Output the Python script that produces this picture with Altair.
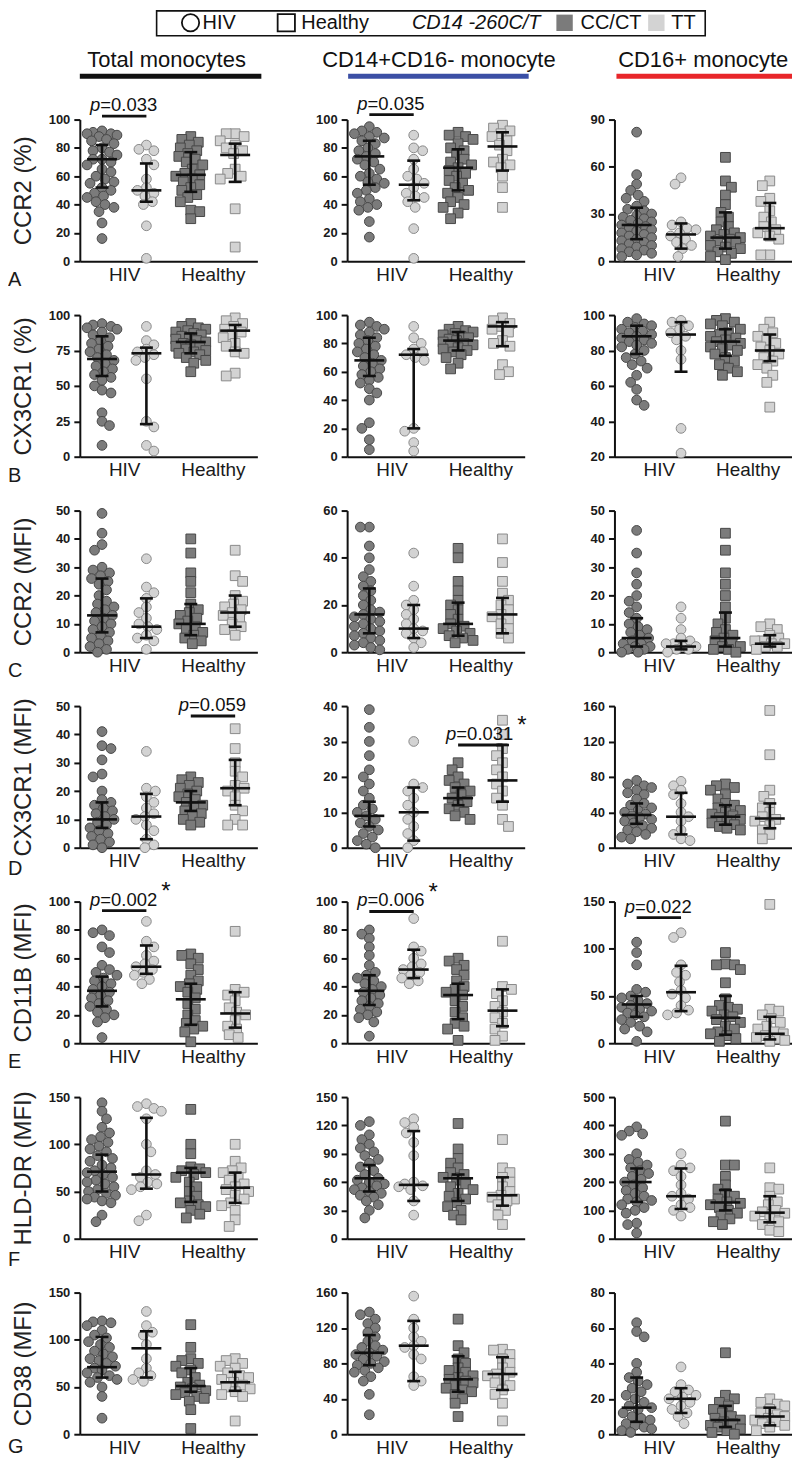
import altair as alt
import pandas as pd

FONT = "Liberation Sans"
W, H = 178, 142
COL_SP, ROW_SP = 90, 54
UNIT = 4.0 / W  # x-units per pixel

GROUPS = ["HIV CC/CT", "HIV TT", "Healthy CC/CT", "Healthy TT"]
CENTERS = [0.5, 1.5, 2.5, 3.5]
SHAPES = ["circle", "circle", "square", "square"]
FILLS = ["#7b7b7b", "#d3d3d3", "#7b7b7b", "#d3d3d3"]
STROKES = ["#474747", "#8a8a8a", "#474747", "#8a8a8a"]
ROW_LETTERS = ["A", "B", "C", "D", "E", "F", "G"]
ROW_LETTER_DY = [25, 25, 25, 27, 25, 27, 19]
ROW_TITLES = ["CCR2 (%)", "CX3CR1 (%)", "CCR2 (MFI)", "CX3CR1 (MFI)",
              "CD11B (MFI)", "HLD-DR (MFI)", "CD38 (MFI)"]
COL_TITLES = ["Total monocytes", "CD14+CD16- monocyte", "CD16+ monocyte"]
COL_LINE_COLORS = ["#111111", "#3b4fa5", "#e8262a"]
LEGEND_TEXT = ["HIV", "Healthy", "CD14 -260C/T", "CC/CT", "TT"]

# y axes (min, max, step) per row, per column
AXES = [
    [(0, 100, 20), (0, 100, 20), (0, 90, 30)],
    [(0, 100, 25), (0, 100, 20), (20, 100, 20)],
    [(0, 50, 10), (0, 60, 20), (0, 50, 10)],
    [(0, 50, 10), (0, 40, 10), (0, 160, 40)],
    [(0, 100, 20), (0, 100, 20), (0, 150, 50)],
    [(0, 150, 50), (0, 150, 30), (0, 500, 100)],
    [(0, 150, 50), (0, 160, 40), (0, 80, 20)],
]

# ---- values: [HIV CC/CT, HIV TT, Healthy CC/CT, Healthy TT] ----
A1 = [[92, 91, 90, 90, 89, 88, 86, 85, 83, 80, 78, 77, 75, 72, 72, 70, 68, 65, 63, 60, 58, 56, 55, 52, 50, 48, 46, 45, 42, 40, 38, 35, 27, 16],
      [82, 79, 78, 72, 68, 58, 52, 50, 48, 46, 42, 40, 25, 2],
      [88, 86, 84, 82, 80, 78, 76, 74, 72, 70, 68, 65, 62, 61, 60, 58, 56, 54, 52, 50, 47, 45, 42, 36, 35, 30],
      [90, 90, 88, 85, 82, 80, 78, 76, 65, 62, 60, 58, 37, 10]]
A2 = [[95, 92, 91, 90, 88, 87, 85, 83, 80, 78, 76, 74, 72, 70, 68, 65, 62, 60, 58, 56, 55, 52, 50, 48, 44, 42, 40, 38, 36, 28, 17],
      [89, 80, 78, 72, 65, 60, 58, 55, 52, 48, 46, 45, 42, 38, 23, 2],
      [91, 89, 88, 86, 83, 80, 78, 75, 72, 70, 68, 66, 64, 62, 60, 57, 55, 52, 50, 48, 45, 42, 40, 38, 34, 30],
      [96, 94, 92, 90, 88, 85, 82, 78, 72, 70, 68, 66, 60, 52, 38]]
A3 = [[82, 55, 49, 45, 42, 40, 38, 35, 33, 32, 30, 29, 28, 27, 26, 25, 24, 23, 22, 21, 20, 19, 18, 17, 16, 15, 14, 13, 12, 11, 10, 9, 8, 7, 6, 5, 4, 3],
      [53, 49, 25, 23, 21, 20, 18, 16, 14, 12, 10, 8, 3],
      [66, 51, 47, 42, 36, 31, 28, 25, 22, 20, 18, 17, 16, 15, 14, 13, 12, 10, 9, 8, 6, 5, 3, 1],
      [51, 48, 40, 38, 32, 28, 25, 22, 20, 18, 16, 14, 4, 4]]
B1 = [[94, 93, 92, 91, 90, 88, 86, 84, 82, 80, 78, 76, 74, 72, 70, 68, 66, 64, 62, 60, 58, 56, 54, 50, 47, 45, 31, 25, 22, 8],
      [92, 82, 79, 76, 74, 72, 70, 68, 55, 25, 21, 8, 4],
      [94, 92, 91, 90, 89, 88, 87, 86, 85, 84, 83, 82, 81, 80, 79, 78, 77, 76, 75, 74, 73, 72, 70, 68, 66, 60],
      [98, 96, 94, 92, 90, 88, 86, 84, 80, 78, 74, 73, 59, 57]]
B2 = [[95, 93, 92, 90, 88, 86, 84, 82, 80, 78, 76, 74, 72, 70, 68, 66, 64, 62, 60, 58, 56, 54, 52, 48, 45, 40, 24, 20, 12, 5],
      [92, 84, 80, 76, 74, 72, 70, 68, 20, 18, 10, 4],
      [92, 90, 89, 88, 87, 86, 85, 84, 83, 82, 81, 80, 79, 78, 77, 76, 75, 74, 72, 70, 66, 62],
      [98, 96, 94, 92, 90, 88, 82, 80, 78, 65, 60, 58]]
B3 = [[98, 96, 95, 94, 93, 92, 91, 90, 89, 88, 87, 86, 85, 84, 83, 82, 80, 78, 76, 74, 72, 70, 66, 62, 58, 52, 49],
      [97, 96, 94, 92, 90, 88, 86, 80, 75, 36, 22],
      [98, 97, 96, 95, 94, 92, 90, 89, 88, 87, 86, 85, 84, 83, 82, 81, 80, 78, 76, 74, 72, 70, 68, 66],
      [96, 92, 90, 88, 86, 84, 82, 80, 78, 76, 74, 72, 70, 66, 62, 48]]
C1 = [[49, 42, 38, 36, 30, 29, 28, 27, 26, 25, 24, 22, 20, 18, 17, 16, 15, 14, 13, 12, 11, 10, 9, 8, 7, 6, 5, 4, 3, 2, 1, 0],
      [33, 23, 21, 19, 16, 14, 12, 10, 9, 8, 6, 5, 4, 1],
      [40, 35, 28, 25, 21, 17, 15, 14, 13, 12, 11, 10, 9, 8, 7, 6, 5, 4, 3],
      [36, 27, 25, 20, 18, 17, 16, 15, 14, 13, 12, 10, 9, 8, 6]]
C2 = [[53, 53, 45, 40, 35, 32, 30, 28, 26, 24, 22, 20, 18, 17, 16, 15, 14, 13, 12, 11, 10, 9, 8, 7, 6, 5, 4, 3, 2, 1],
      [42, 28, 22, 20, 18, 16, 14, 12, 10, 9, 8, 6, 4, 2],
      [44, 40, 30, 26, 22, 20, 18, 16, 14, 12, 11, 10, 9, 8, 7, 6, 5, 4],
      [48, 38, 30, 25, 22, 20, 18, 16, 15, 14, 12, 10, 8, 6]]
C3 = [[43, 35, 28, 24, 20, 18, 16, 14, 12, 10, 9, 8, 7, 6, 5, 4, 3, 3, 2, 2, 1, 1, 0, 0],
      [16, 12, 8, 5, 4, 3, 3, 2, 2, 1, 1, 0],
      [42, 36, 28, 24, 20, 16, 12, 10, 8, 7, 6, 5, 4, 3, 2, 2, 1, 1, 0],
      [10, 9, 8, 6, 5, 4, 4, 3, 3, 2, 2, 1]]
D1 = [[41, 36, 35, 31, 26, 25, 20, 17, 16, 15, 14, 13, 12, 11, 10, 9, 8, 7, 6, 5, 4, 3, 2, 1, 0],
      [34, 21, 20, 18, 16, 14, 12, 11, 10, 8, 6, 3, 1, 0],
      [25, 24, 23, 22, 21, 20, 19, 18, 17, 16, 15, 14, 13, 12, 11, 10, 9, 8],
      [42, 35, 30, 27, 25, 22, 21, 20, 18, 15, 13, 10, 8, 8]]
D2 = [[39, 34, 30, 26, 22, 20, 18, 16, 14, 12, 11, 10, 9, 8, 7, 6, 5, 4, 3, 2, 1, 0],
      [30, 18, 17, 16, 14, 12, 10, 8, 6, 4, 2, 0],
      [24, 22, 20, 19, 18, 17, 16, 15, 14, 13, 12, 11, 10, 9, 8],
      [36, 32, 28, 26, 24, 22, 20, 18, 16, 14, 12, 8, 6]]
D3 = [[76, 72, 70, 68, 65, 62, 60, 55, 50, 48, 45, 42, 40, 38, 36, 34, 32, 30, 28, 25, 22, 20, 18, 15, 12, 10],
      [75, 70, 65, 60, 50, 40, 35, 30, 20, 15, 10, 8],
      [72, 70, 68, 65, 60, 55, 50, 48, 45, 42, 40, 38, 36, 34, 32, 30, 28, 26, 24, 22, 20],
      [155, 105, 65, 58, 50, 45, 40, 35, 32, 30, 25, 20, 15, 10]]
E1 = [[80, 78, 76, 68, 64, 55, 52, 50, 48, 46, 44, 42, 40, 38, 36, 34, 32, 30, 28, 26, 24, 22, 20, 18, 15, 4],
      [86, 72, 68, 62, 58, 56, 54, 52, 50, 48, 45, 42],
      [63, 62, 60, 56, 52, 48, 44, 42, 40, 38, 36, 32, 28, 24, 20, 16, 14, 12, 10, 8, 1],
      [79, 38, 36, 34, 30, 25, 22, 20, 16, 12, 10, 6, 4]]
E2 = [[80, 77, 74, 68, 62, 55, 50, 48, 46, 44, 42, 40, 38, 36, 34, 32, 30, 28, 26, 24, 22, 20, 18, 15, 5],
      [88, 68, 65, 60, 56, 54, 52, 50, 48, 46, 44, 42],
      [60, 58, 55, 52, 48, 44, 40, 38, 36, 34, 30, 26, 22, 18, 14, 12, 10, 2],
      [72, 40, 38, 35, 30, 26, 22, 18, 14, 10, 5, 2]]
E3 = [[107, 96, 83, 57, 54, 50, 48, 45, 42, 40, 38, 36, 34, 32, 30, 28, 25, 22, 18, 15, 12, 2],
      [117, 112, 83, 75, 72, 65, 56, 52, 48, 40, 35, 32, 30],
      [96, 84, 83, 83, 78, 64, 47, 40, 38, 36, 34, 30, 28, 25, 22, 18, 15, 12, 10, 8, 5, 2],
      [147, 36, 34, 30, 26, 22, 18, 15, 12, 10, 8, 6, 5, 3, 2]]
F1 = [[144, 135, 127, 118, 112, 108, 105, 102, 98, 95, 92, 88, 85, 82, 78, 75, 72, 70, 68, 65, 62, 60, 58, 55, 52, 50, 48, 46, 44, 42, 40, 38, 25, 18],
      [143, 140, 138, 135, 127, 100, 92, 72, 68, 65, 60, 58, 55, 52, 25, 19],
      [137, 100, 90, 76, 74, 72, 70, 68, 65, 60, 55, 50, 45, 40, 38, 36, 34, 30, 26, 22],
      [100, 82, 75, 72, 70, 65, 62, 58, 55, 52, 50, 46, 42, 38, 35, 30, 20, 13]]
F2 = [[124, 120, 110, 105, 100, 96, 92, 88, 84, 80, 76, 72, 68, 64, 62, 60, 58, 56, 54, 52, 50, 48, 46, 44, 40, 36, 30, 22],
      [127, 123, 118, 112, 102, 88, 60, 58, 56, 55, 52, 40, 25],
      [122, 95, 85, 80, 75, 70, 68, 65, 62, 58, 55, 52, 48, 45, 42, 38, 34, 30, 25, 20],
      [105, 75, 70, 65, 60, 55, 50, 46, 44, 42, 40, 36, 30, 25, 15]]
F3 = [[395, 380, 370, 365, 300, 280, 270, 260, 250, 240, 230, 220, 210, 200, 190, 180, 170, 160, 150, 140, 135, 130, 120, 110, 100, 90, 55, 50, 20],
      [300, 260, 250, 240, 220, 190, 160, 150, 140, 120, 110, 100, 80],
      [415, 260, 260, 220, 190, 175, 160, 150, 140, 130, 125, 120, 110, 100, 90, 80, 70, 60, 50],
      [250, 180, 175, 150, 130, 120, 100, 95, 90, 80, 70, 60, 50, 30, 25]]
G1 = [[120, 119, 118, 115, 110, 105, 102, 98, 95, 92, 88, 85, 82, 80, 78, 75, 72, 70, 68, 65, 62, 60, 58, 55, 50, 40, 17],
      [130, 115, 108, 105, 95, 80, 70, 65, 62, 58, 56],
      [116, 92, 80, 78, 75, 72, 68, 65, 60, 55, 52, 50, 48, 46, 44, 42, 40, 38, 35, 26, 6],
      [80, 78, 75, 72, 70, 65, 62, 60, 58, 55, 52, 50, 48, 45, 42, 40, 14]]
G2 = [[138, 135, 130, 125, 120, 115, 110, 105, 100, 98, 95, 92, 90, 88, 85, 82, 80, 78, 75, 72, 70, 65, 60, 45, 22],
      [156, 130, 120, 110, 105, 100, 98, 90, 85, 65, 60, 55],
      [130, 100, 92, 85, 80, 75, 72, 70, 66, 64, 62, 60, 58, 55, 52, 50, 48, 45, 40, 35, 20],
      [96, 95, 90, 85, 80, 75, 70, 68, 66, 62, 58, 55, 50, 45, 35, 15]]
G3 = [[63, 58, 55, 40, 35, 32, 30, 28, 26, 24, 22, 20, 18, 16, 15, 14, 12, 10, 9, 8, 6, 5, 4, 3, 2, 1],
      [38, 28, 25, 24, 22, 21, 20, 18, 16, 14, 12, 10, 6],
      [46, 22, 20, 18, 16, 14, 12, 10, 9, 8, 7, 6, 5, 4, 3, 2, 1, 0],
      [20, 18, 17, 16, 14, 12, 11, 10, 9, 8, 7, 6, 5, 4, 2]]

# ---- medians and interquartile ranges: (median, q1, q3) per group ----
S_A1 = [(72, 52, 82), (50, 42, 69), (61, 49, 77), (75, 56, 83)]
S_A2 = [(74, 54, 85), (54, 43, 71), (66, 50, 79), (81, 64, 91)]
S_A3 = [(23, 14, 34), (17, 8, 24), (15, 8, 31), (21, 14, 37)]
S_B1 = [(69, 57, 85), (73, 23, 77), (81, 73, 87), (89, 75, 93)]
S_B2 = [(68, 57, 84), (72, 20, 76), (82, 75, 88), (92, 78, 95)]
S_B3 = [(88, 78, 94), (89, 68, 96), (85, 77, 92), (80, 74, 89)]
S_C1 = [(13, 7, 26), (9, 5, 19), (10, 6, 17), (14, 9, 20)]
S_C2 = [(16, 8, 27), (10, 6, 20), (12, 7, 21), (16, 8, 23)]
S_C3 = [(5, 2, 12), (2, 1, 4), (5, 2, 14), (3, 2, 6)]
S_D1 = [(10, 7, 16), (11, 3, 19), (16, 13, 20), (21, 15, 31)]
S_D2 = [(9, 6, 13), (10, 2, 17), (14, 12, 17), (19, 13, 29)]
S_D3 = [(37, 27, 50), (35, 15, 62), (35, 26, 48), (33, 22, 50)]
S_E1 = [(37, 26, 47), (54, 49, 69), (31, 13, 42), (21, 11, 36)]
S_E2 = [(37, 27, 48), (52, 46, 66), (34, 17, 42), (23, 12, 38)]
S_E3 = [(41, 28, 50), (54, 34, 82), (27, 9, 50), (10, 4, 28)]
S_F1 = [(71, 50, 89), (68, 53, 128), (70, 39, 75), (54, 38, 70)]
S_F2 = [(64, 50, 78), (57, 40, 114), (64, 40, 68), (46, 35, 65)]
S_F3 = [(200, 130, 248), (150, 105, 248), (128, 100, 172), (92, 58, 150)]
S_G1 = [(71, 60, 103), (91, 60, 109), (51, 45, 70), (55, 46, 66)]
S_G2 = [(92, 78, 112), (100, 60, 128), (62, 48, 88), (68, 50, 87)]
S_G3 = [(15, 7, 32), (20, 12, 26), (8, 4, 16), (10, 5, 15)]

PANELS = [[A1, A2, A3], [B1, B2, B3], [C1, C2, C3], [D1, D2, D3],
          [E1, E2, E3], [F1, F2, F3], [G1, G2, G3]]
STATS = [[S_A1, S_A2, S_A3], [S_B1, S_B2, S_B3], [S_C1, S_C2, S_C3], [S_D1, S_D2, S_D3],
         [S_E1, S_E2, S_E3], [S_F1, S_F2, S_F3], [S_G1, S_G2, S_G3]]

# p-value brackets: (row, col, group a, group b, bracket value, label, star)
PVALS = [
    (0, 0, 0, 1, 102.5, "=0.033", False),
    (0, 1, 0, 1, 103.5, "=0.035", False),
    (3, 0, 2, 3, 46.5, "=0.059", False),
    (3, 1, 2, 3, 29.0, "=0.031", True),
    (4, 0, 0, 1, 93.6, "=0.002", True),
    (4, 1, 0, 1, 93.0, "=0.006", True),
    (4, 2, 0, 1, 133.0, "=0.022", False),
]

P_FS = 18.5
ONE = pd.DataFrame({"k": [0]})


def text_width(s, fs):
    w = {"=": 0.584, ".": 0.278}
    return sum(w.get(ch, 0.556) for ch in s) * fs


def swarm(vals, ymin, ymax, d=8.5, step=1.5, maxoff=16.0):
    sc = H / (ymax - ymin)
    order = sorted(range(len(vals)), key=lambda i: -vals[i])
    placed, offs = [], [0.0] * len(vals)
    for k, i in enumerate(order):
        py = (vals[i] - ymin) * sc
        sgn = 1 if k % 2 == 0 else -1
        cands, n = [0.0], 1
        while n * step <= maxoff:
            cands += [sgn * n * step, -sgn * n * step]
            n += 1
        best = None
        for cx in cands:
            if all((cx - px) ** 2 + (py - qy) ** 2 >= d * d for px, qy in placed):
                best = cx
                break
        if best is None:
            best = max(cands, key=lambda cx: min((cx - px) ** 2 + (py - qy) ** 2 for px, qy in placed))
        placed.append((best, py))
        offs[i] = best
    return offs


def header_layers():
    """Legend box and column titles, placed relative to the top-left panel."""
    L = []
    LY = -97
    L.append(alt.Chart(ONE).mark_rect(fillOpacity=0, stroke="#111", strokeWidth=1.6).encode(
        x=alt.value(77), x2=alt.value(627), y=alt.value(-109), y2=alt.value(-84)))
    for sx, sh in [(111, "circle"), (207, "square")]:
        L.append(alt.Chart(ONE).mark_point(filled=False, shape=sh, size=300, stroke="#111",
                                           strokeWidth=1.8, opacity=1).encode(
            x=alt.value(sx), y=alt.value(LY)))
    for sx, col in [(486, "#7b7b7b"), (578, "#d3d3d3")]:
        L.append(alt.Chart(ONE).mark_point(filled=True, shape="square", size=270, fill=col,
                                           opacity=1).encode(x=alt.value(sx), y=alt.value(LY)))
    for tx, t, style in [(123, LEGEND_TEXT[0], "normal"), (222, LEGEND_TEXT[1], "normal"),
                         (333, LEGEND_TEXT[2], "italic"), (502, LEGEND_TEXT[3], "normal"),
                         (593, LEGEND_TEXT[4], "normal")]:
        L.append(alt.Chart(ONE).mark_text(font=FONT, fontSize=20, fontStyle=style, align="left",
                                          baseline="middle", color="#111", text=t).encode(
            x=alt.value(tx), y=alt.value(LY)))
    for (cx, t), (ux0, ux1), col in zip([(87, COL_TITLES[0]), (360, COL_TITLES[1]), (625, COL_TITLES[2])],
                                        [(0, 182), (269, 450), (538, 714)], COL_LINE_COLORS):
        L.append(alt.Chart(ONE).mark_text(font=FONT, fontSize=22, align="center", baseline="alphabetic",
                                          color="#111", text=t).encode(x=alt.value(cx), y=alt.value(-53)))
        L.append(alt.Chart(ONE).mark_rect(fill=col).encode(
            x=alt.value(ux0), x2=alt.value(ux1), y=alt.value(-46), y2=alt.value(-41)))
    return L


def panel(r, c):
    ymin, ymax, step = AXES[r][c]
    ysc = alt.Scale(domain=[ymin, ymax], nice=False, zero=False)
    xsc = alt.Scale(domain=[0, 4], nice=False, zero=False)
    title = ROW_TITLES[r] if c == 0 else None
    yax_kw = dict(values=list(range(ymin, ymax + 1, step)), grid=False,
                  labelFont=FONT, labelFontSize=13, labelFontWeight="bold", labelColor="#1a1a1a",
                  labelPadding=4, tickSize=6, tickWidth=2, tickColor="#111", domainWidth=2,
                  domainColor="#111", minExtent=34, maxExtent=34)
    if title:
        yax = alt.Axis(title=title, titleFont=FONT, titleFontSize=24, titleFontWeight="normal",
                       titleColor="#222", titlePadding=10, **yax_kw)
    else:
        yax = alt.Axis(title=None, **yax_kw)
    xax = alt.Axis(values=[1, 3], labelExpr="datum.value == 1 ? 'HIV' : 'Healthy'", ticks=False,
                   tickSize=0, grid=False, title=None, labelFont=FONT, labelFontSize=19,
                   labelFontWeight="normal", labelColor="#1a1a1a", labelPadding=4,
                   domainWidth=2, domainColor="#111", labelFlush=False)

    def X(f):
        return alt.X(f, type="quantitative", scale=xsc, axis=xax, title=None)

    def Y(f):
        return alt.Y(f, type="quantitative", scale=ysc, axis=yax, title=title)

    rows = []
    for gi, vals in enumerate(PANELS[r][c]):
        offs = swarm(vals, ymin, ymax)
        for v, o in zip(vals, offs):
            rows.append({"g": GROUPS[gi], "x": CENTERS[gi] + o * UNIT, "v": v})
    pts = pd.DataFrame(rows)

    st = []
    for gi, (m, q1, q3) in enumerate(STATS[r][c]):
        cx = CENTERS[gi]
        st.append({"xc": cx, "ml": cx - 15 * UNIT, "mr": cx + 15 * UNIT,
                   "cl": cx - 6.5 * UNIT, "cr": cx + 6.5 * UNIT, "med": m, "q1": q1, "q3": q3})
    st = pd.DataFrame(st)

    points = alt.Chart(pts).mark_point(filled=True, size=95, strokeWidth=1, opacity=1).encode(
        x=X("x"), y=Y("v"),
        shape=alt.Shape("g:N", scale=alt.Scale(domain=GROUPS, range=SHAPES), legend=None),
        fill=alt.Fill("g:N", scale=alt.Scale(domain=GROUPS, range=FILLS), legend=None),
        stroke=alt.Stroke("g:N", scale=alt.Scale(domain=GROUPS, range=STROKES), legend=None),
    )
    base = alt.Chart(st)
    iqr = base.mark_rule(strokeWidth=2.6, color="#111").encode(x=X("xc"), y=Y("q1"), y2="q3")
    med = base.mark_rule(strokeWidth=2.6, color="#111").encode(x=X("ml"), x2="mr", y=Y("med"))
    cap1 = base.mark_rule(strokeWidth=2.6, color="#111").encode(x=X("cl"), x2="cr", y=Y("q1"))
    cap3 = base.mark_rule(strokeWidth=2.6, color="#111").encode(x=X("cl"), x2="cr", y=Y("q3"))
    layers = [points, iqr, med, cap1, cap3]

    for (pr, pc, a, b, lv, lab, star) in PVALS:
        if pr != r or pc != c:
            continue
        mid = (CENTERS[a] + CENTERS[b]) / 2
        split = mid - 24 * UNIT
        tw = text_width(lab, P_FS)
        pdf = pd.DataFrame([{"xa": CENTERS[a], "xb": CENTERS[b], "xs": split,
                             "xe": split + (tw + 4) * UNIT, "lv": lv, "lab": lab, "p": "p", "s": "*"}])
        pb = alt.Chart(pdf)
        layers.append(pb.mark_rule(strokeWidth=2.8, color="#111").encode(x=X("xa"), x2="xb", y=Y("lv")))
        layers.append(pb.mark_text(font=FONT, fontSize=P_FS, fontStyle="italic", align="right",
                                   baseline="alphabetic", dy=-5, color="#111").encode(
            x=X("xs"), y=Y("lv"), text="p:N"))
        layers.append(pb.mark_text(font=FONT, fontSize=P_FS, align="left",
                                   baseline="alphabetic", dy=-5, color="#111").encode(
            x=X("xs"), y=Y("lv"), text="lab:N"))
        if star:
            layers.append(pb.mark_text(font=FONT, fontSize=24, align="left",
                                       baseline="alphabetic", dy=-12, color="#111").encode(
                x=X("xe"), y=Y("lv"), text="s:N"))

    if c == 0:
        ldf = pd.DataFrame({"t": [ROW_LETTERS[r]]})
        layers.append(alt.Chart(ldf).mark_text(font=FONT, fontSize=20, align="left",
                                               baseline="alphabetic", color="#1a1a1a").encode(
            x=alt.value(-72), y=alt.value(H + ROW_LETTER_DY[r]), text="t:N"))
    if r == 0 and c == 0:
        layers += header_layers()

    return alt.layer(*layers).properties(width=W, height=H)


panels = [panel(r, c) for r in range(7) for c in range(3)]
chart = alt.concat(*panels, columns=3, spacing={"row": ROW_SP, "column": COL_SP}, bounds="flush").properties(
    padding={"left": 0, "top": 0, "right": 0, "bottom": 0}
).configure_view(strokeWidth=0).configure_axis(labelFont=FONT, titleFont=FONT)

chart.save("out.html", embed_options={"renderer": "svg", "actions": False})
